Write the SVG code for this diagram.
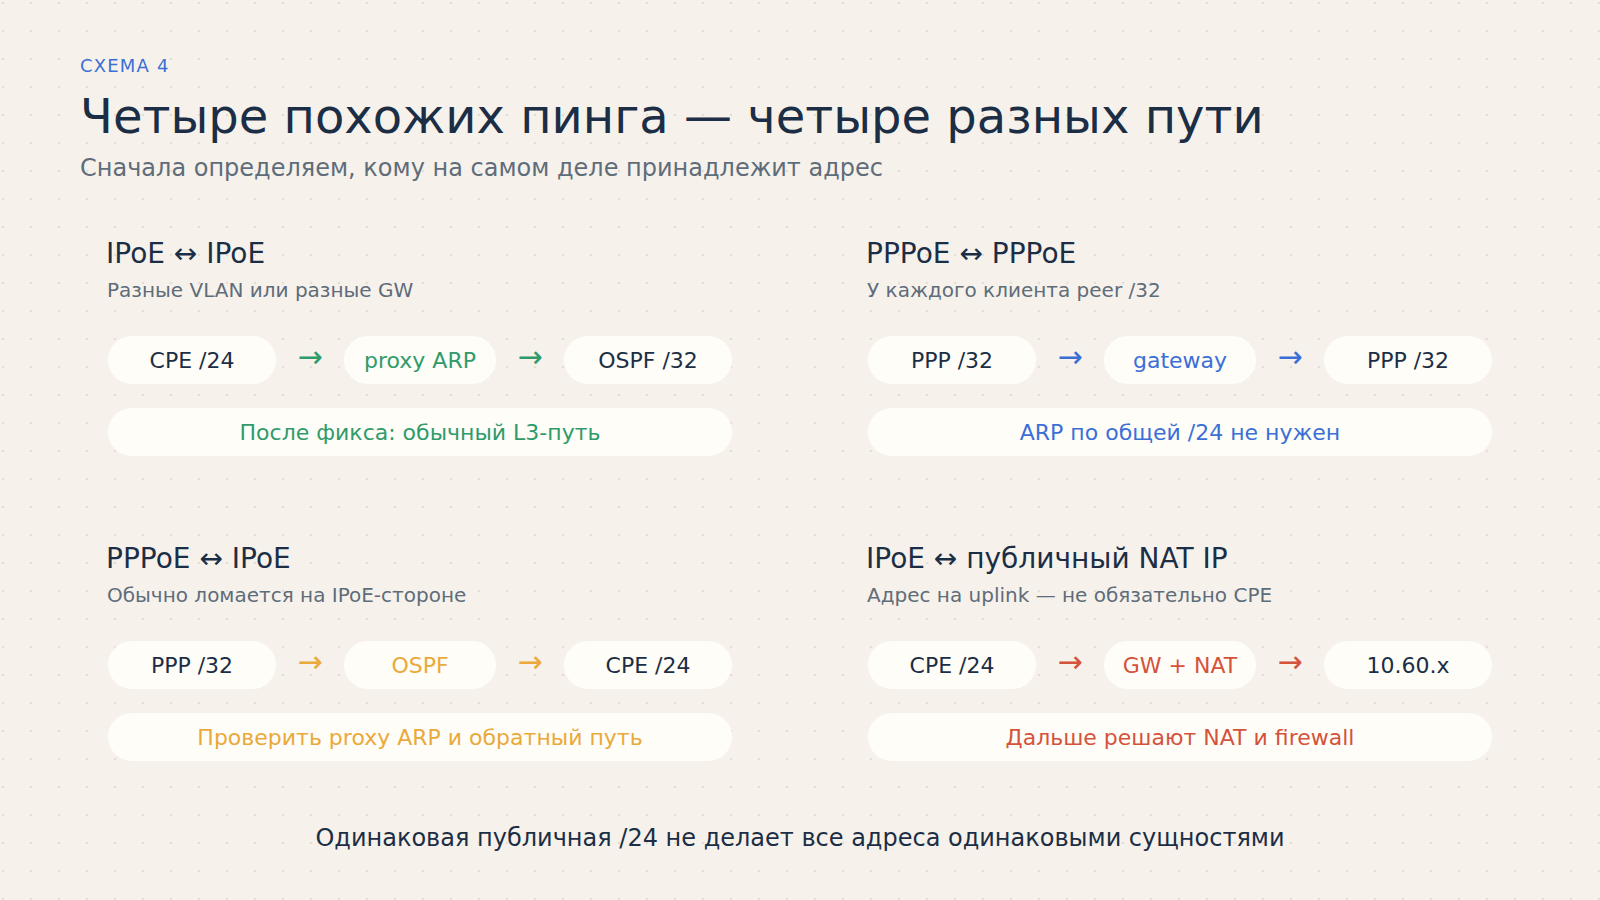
<svg xmlns="http://www.w3.org/2000/svg" width="1600" height="900" viewBox="0 0 1600 900">
  <defs>
    <pattern id="dots" x="0" y="0" width="28" height="28" patternUnits="userSpaceOnUse">
      <circle cx="3" cy="3" r="1.3" fill="#e4dfd5"/>
    </pattern>
    <style>
      text { font-family: "DejaVu Sans", "Noto Sans", sans-serif; }
      .eyebrow { font-size: 18px; fill: #3b6fd6; letter-spacing: 1.2px; }
      .title { font-size: 48px; fill: #1b2e45; }
      .subtitle { font-size: 24px; fill: #5f6c7a; }
      .head { font-size: 28px; fill: #1b2e45; }
      .desc { font-size: 20px; fill: #5f6c7a; }
      .pill { fill: #fefdf8; }
      .pt { font-size: 22px; text-anchor: middle; fill: #1b2e45; }
      .arrow { font-size: 30px; text-anchor: middle; }
      .green { fill: #2f9b6a; }
      .blue { fill: #3b6fd6; }
      .orange { fill: #eaa93a; }
      .red { fill: #d5533b; }
      .footer { font-size: 24px; fill: #1b2e45; text-anchor: middle; }
    </style>
  </defs>
  <rect width="1600" height="900" fill="#f6f2eb"/>
  <rect width="1600" height="900" fill="url(#dots)"/>

  <g id="header">
    <text class="eyebrow" x="80" y="72">СХЕМА 4</text>
    <text class="title" x="80" y="133">Четыре похожих пинга — четыре разных пути</text>
    <text class="subtitle" x="80" y="176">Сначала определяем, кому на самом деле принадлежит адрес</text>
  </g>

  <!-- Panel 1: IPoE ↔ IPoE -->
  <g id="panel-ipoe-ipoe">
    <text class="head" x="106" y="263">IPoE ↔ IPoE</text>
    <text class="desc" x="107" y="297">Разные VLAN или разные GW</text>
    <g id="p1-cpe"><rect class="pill" x="108" y="336" width="168" height="48" rx="24"/><text class="pt" x="192" y="368">CPE /24</text></g>
    <g id="p1-proxy"><rect class="pill" x="344" y="336" width="152" height="48" rx="24"/><text class="pt green" x="420" y="368">proxy ARP</text></g>
    <g id="p1-ospf"><rect class="pill" x="564" y="336" width="168" height="48" rx="24"/><text class="pt" x="648" y="368">OSPF /32</text></g>
    <g id="p1-note"><rect class="pill" x="108" y="408" width="624" height="48" rx="24"/><text class="pt green" x="420" y="440">После фикса: обычный L3-путь</text></g>
  </g>

  <!-- Panel 2: PPPoE ↔ PPPoE -->
  <g id="panel-pppoe-pppoe">
    <text class="head" x="866" y="263">PPPoE ↔ PPPoE</text>
    <text class="desc" x="867" y="297">У каждого клиента peer /32</text>
    <g id="p2-ppp1"><rect class="pill" x="868" y="336" width="168" height="48" rx="24"/><text class="pt" x="952" y="368">PPP /32</text></g>
    <g id="p2-gw"><rect class="pill" x="1104" y="336" width="152" height="48" rx="24"/><text class="pt blue" x="1180" y="368">gateway</text></g>
    <g id="p2-ppp2"><rect class="pill" x="1324" y="336" width="168" height="48" rx="24"/><text class="pt" x="1408" y="368">PPP /32</text></g>
    <g id="p2-note"><rect class="pill" x="868" y="408" width="624" height="48" rx="24"/><text class="pt blue" x="1180" y="440">ARP по общей /24 не нужен</text></g>
  </g>

  <!-- Panel 3: PPPoE ↔ IPoE -->
  <g id="panel-pppoe-ipoe">
    <text class="head" x="106" y="568">PPPoE ↔ IPoE</text>
    <text class="desc" x="107" y="602">Обычно ломается на IPoE-стороне</text>
    <g id="p3-ppp"><rect class="pill" x="108" y="641" width="168" height="48" rx="24"/><text class="pt" x="192" y="673">PPP /32</text></g>
    <g id="p3-ospf"><rect class="pill" x="344" y="641" width="152" height="48" rx="24"/><text class="pt orange" x="420" y="673">OSPF</text></g>
    <g id="p3-cpe"><rect class="pill" x="564" y="641" width="168" height="48" rx="24"/><text class="pt" x="648" y="673">CPE /24</text></g>
    <g id="p3-note"><rect class="pill" x="108" y="713" width="624" height="48" rx="24"/><text class="pt orange" x="420" y="745">Проверить proxy ARP и обратный путь</text></g>
  </g>

  <!-- Panel 4: IPoE ↔ публичный NAT IP -->
  <g id="panel-ipoe-nat">
    <text class="head" x="866" y="568">IPoE ↔ публичный NAT IP</text>
    <text class="desc" x="867" y="602">Адрес на uplink — не обязательно CPE</text>
    <g id="p4-cpe"><rect class="pill" x="868" y="641" width="168" height="48" rx="24"/><text class="pt" x="952" y="673">CPE /24</text></g>
    <g id="p4-gwnat"><rect class="pill" x="1104" y="641" width="152" height="48" rx="24"/><text class="pt red" x="1180" y="673">GW + NAT</text></g>
    <g id="p4-ip"><rect class="pill" x="1324" y="641" width="168" height="48" rx="24"/><text class="pt" x="1408" y="673">10.60.x</text></g>
    <g id="p4-note"><rect class="pill" x="868" y="713" width="624" height="48" rx="24"/><text class="pt red" x="1180" y="745">Дальше решают NAT и firewall</text></g>
  </g>

  <g id="connectors">
    <text class="arrow green" x="310" y="367">→</text>
    <text class="arrow green" x="530" y="367">→</text>
    <text class="arrow blue" x="1070" y="367">→</text>
    <text class="arrow blue" x="1290" y="367">→</text>
    <text class="arrow orange" x="310" y="672">→</text>
    <text class="arrow orange" x="530" y="672">→</text>
    <text class="arrow red" x="1070" y="672">→</text>
    <text class="arrow red" x="1290" y="672">→</text>
  </g>

  <g id="footer">
    <text class="footer" x="800" y="846">Одинаковая публичная /24 не делает все адреса одинаковыми сущностями</text>
  </g>
</svg>
